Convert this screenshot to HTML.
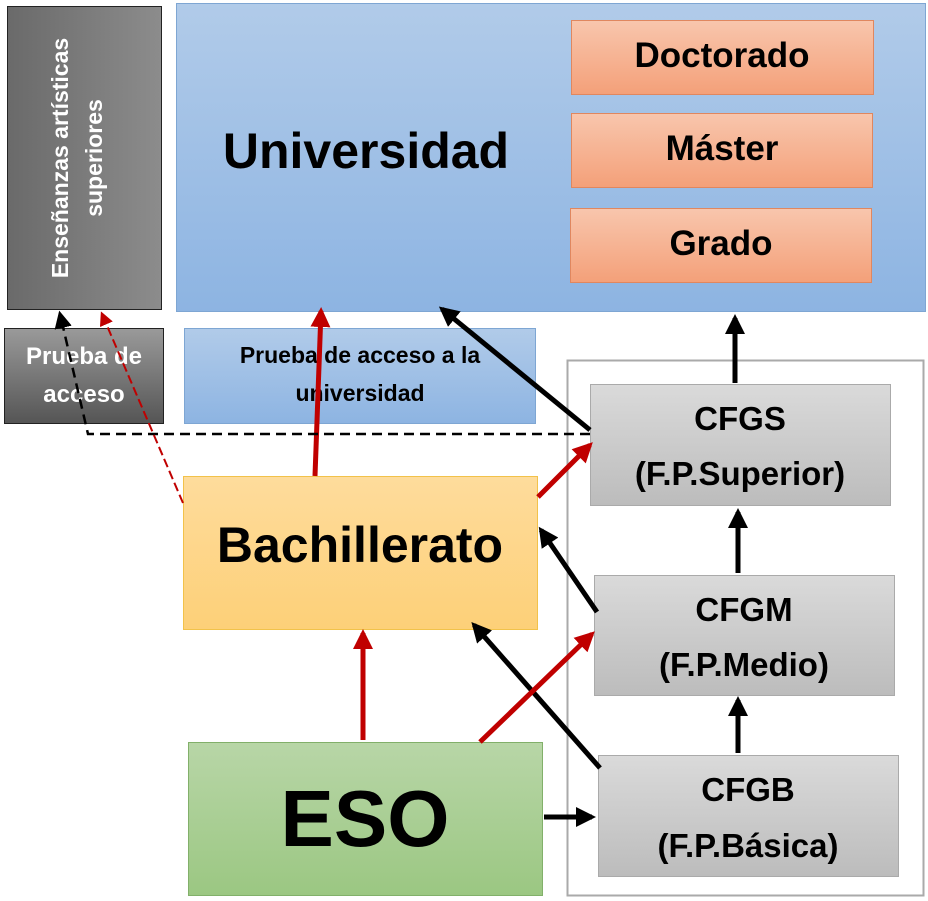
<!DOCTYPE html>
<html><head><meta charset="utf-8"><style>body{margin:0;background:#fff}svg{display:block}text{font-family:"Liberation Sans",sans-serif;font-weight:bold}</style></head><body>
<svg width="928" height="901" viewBox="0 0 928 901" xmlns="http://www.w3.org/2000/svg">
<defs>
<linearGradient id="gA" x1="0" y1="0" x2="1" y2="0"><stop offset="0" stop-color="#6a6a6a"/><stop offset="1" stop-color="#8c8c8c"/></linearGradient>
<linearGradient id="gP" x1="0" y1="0" x2="0" y2="1"><stop offset="0" stop-color="#9a9a9a"/><stop offset="1" stop-color="#555"/></linearGradient>
<linearGradient id="gB" x1="0" y1="0" x2="0" y2="1"><stop offset="0" stop-color="#b1cbe9"/><stop offset="1" stop-color="#8db4e2"/></linearGradient>
<linearGradient id="gS" x1="0" y1="0" x2="0" y2="1"><stop offset="0" stop-color="#f8c6ad"/><stop offset="1" stop-color="#f4a079"/></linearGradient>
<linearGradient id="gG" x1="0" y1="0" x2="0" y2="1"><stop offset="0" stop-color="#dadada"/><stop offset="1" stop-color="#bcbcbc"/></linearGradient>
<linearGradient id="gY" x1="0" y1="0" x2="0" y2="1"><stop offset="0" stop-color="#fedc9c"/><stop offset="1" stop-color="#fdd078"/></linearGradient>
<linearGradient id="gE" x1="0" y1="0" x2="0" y2="1"><stop offset="0" stop-color="#b8d6a7"/><stop offset="1" stop-color="#9bc782"/></linearGradient>
<marker id="mk" viewBox="0 0 10 10" refX="8" refY="5" markerWidth="4" markerHeight="4" orient="auto"><path d="M0,0L10,5L0,10z" fill="#000"/></marker>
<marker id="mr" viewBox="0 0 10 10" refX="8" refY="5" markerWidth="4" markerHeight="4" orient="auto"><path d="M0,0L10,5L0,10z" fill="#c00000"/></marker>
<marker id="mks" viewBox="0 0 10 10" refX="8" refY="5" markerWidth="7" markerHeight="7" orient="auto"><path d="M0,0L10,5L0,10z" fill="#000"/></marker>
<marker id="mrs" viewBox="0 0 10 10" refX="8" refY="5" markerWidth="7" markerHeight="7" orient="auto"><path d="M0,0L10,5L0,10z" fill="#c00000"/></marker>
</defs>
<rect x="7.5" y="6.5" width="154" height="303" fill="url(#gA)" stroke="#222"/>
<text transform="translate(68,158) rotate(-90)" text-anchor="middle" font-size="23" fill="#fff">Enseñanzas artísticas</text>
<text transform="translate(102,158) rotate(-90)" text-anchor="middle" font-size="23" fill="#fff">superiores</text>
<rect x="4.5" y="328.5" width="159" height="95" fill="url(#gP)" stroke="#222"/>
<text x="84" y="364" text-anchor="middle" font-size="24" fill="#fff">Prueba de</text>
<text x="84" y="402" text-anchor="middle" font-size="24" fill="#fff">acceso</text>
<rect x="176.5" y="3.5" width="749" height="308" fill="url(#gB)" stroke="#7ea6d3"/>
<text x="366" y="168" text-anchor="middle" font-size="50" fill="#000">Universidad</text>
<rect x="571.5" y="20.5" width="302" height="74" fill="url(#gS)" stroke="#e0875f"/>
<text x="722" y="67" text-anchor="middle" font-size="35">Doctorado</text>
<rect x="571.5" y="113.5" width="301" height="74" fill="url(#gS)" stroke="#e0875f"/>
<text x="722" y="160" text-anchor="middle" font-size="35">Máster</text>
<rect x="570.5" y="208.5" width="301" height="74" fill="url(#gS)" stroke="#e0875f"/>
<text x="721" y="255" text-anchor="middle" font-size="35">Grado</text>
<rect x="184.5" y="328.5" width="351" height="95" fill="url(#gB)" stroke="#7ea6d3"/>
<text x="360" y="363" text-anchor="middle" font-size="23">Prueba de acceso a la</text>
<text x="360" y="401" text-anchor="middle" font-size="23">universidad</text>
<rect x="567.5" y="360.5" width="356" height="535" fill="#fff" stroke="#aaa" stroke-width="2"/>
<rect x="590.5" y="384.5" width="300" height="121" fill="url(#gG)" stroke="#aaa"/>
<text x="740" y="430" text-anchor="middle" font-size="33">CFGS</text>
<text x="740" y="485" text-anchor="middle" font-size="33">(F.P.Superior)</text>
<rect x="594.5" y="575.5" width="300" height="120" fill="url(#gG)" stroke="#aaa"/>
<text x="744" y="621" text-anchor="middle" font-size="33">CFGM</text>
<text x="744" y="676" text-anchor="middle" font-size="33">(F.P.Medio)</text>
<rect x="598.5" y="755.5" width="300" height="121" fill="url(#gG)" stroke="#aaa"/>
<text x="748" y="801" text-anchor="middle" font-size="33">CFGB</text>
<text x="748" y="857" text-anchor="middle" font-size="33">(F.P.Básica)</text>
<rect x="183.5" y="476.5" width="354" height="153" fill="url(#gY)" stroke="#f2c24a"/>
<text x="360" y="562" text-anchor="middle" font-size="50">Bachillerato</text>
<rect x="188.5" y="742.5" width="354" height="153" fill="url(#gE)" stroke="#82b06a"/>
<text x="365" y="846" text-anchor="middle" font-size="80">ESO</text>
<g stroke="#000" stroke-width="5" fill="none" marker-end="url(#mk)">
<line x1="735" y1="383" x2="735" y2="318"/>
<line x1="738" y1="573" x2="738" y2="512"/>
<line x1="738" y1="753" x2="738" y2="700"/>
<line x1="544" y1="817" x2="592" y2="817"/>
<line x1="590" y1="430" x2="442" y2="309"/>
<line x1="597" y1="612" x2="541" y2="530"/>
<line x1="600" y1="768" x2="474" y2="625"/>
</g>
<g stroke="#c00000" stroke-width="5" fill="none" marker-end="url(#mr)">
<line x1="315" y1="476" x2="321" y2="311"/>
<line x1="363" y1="740" x2="363" y2="633"/>
<line x1="480" y1="742" x2="592" y2="634"/>
<line x1="538" y1="497" x2="590" y2="445"/>
</g>
<polyline points="590,434 88,434 60,314" fill="none" stroke="#000" stroke-width="2.5" stroke-dasharray="10,6" marker-end="url(#mks)"/>
<line x1="183" y1="503" x2="102" y2="314" stroke="#c00000" stroke-width="2" stroke-dasharray="9,4" marker-end="url(#mrs)"/>
</svg>
</body></html>
